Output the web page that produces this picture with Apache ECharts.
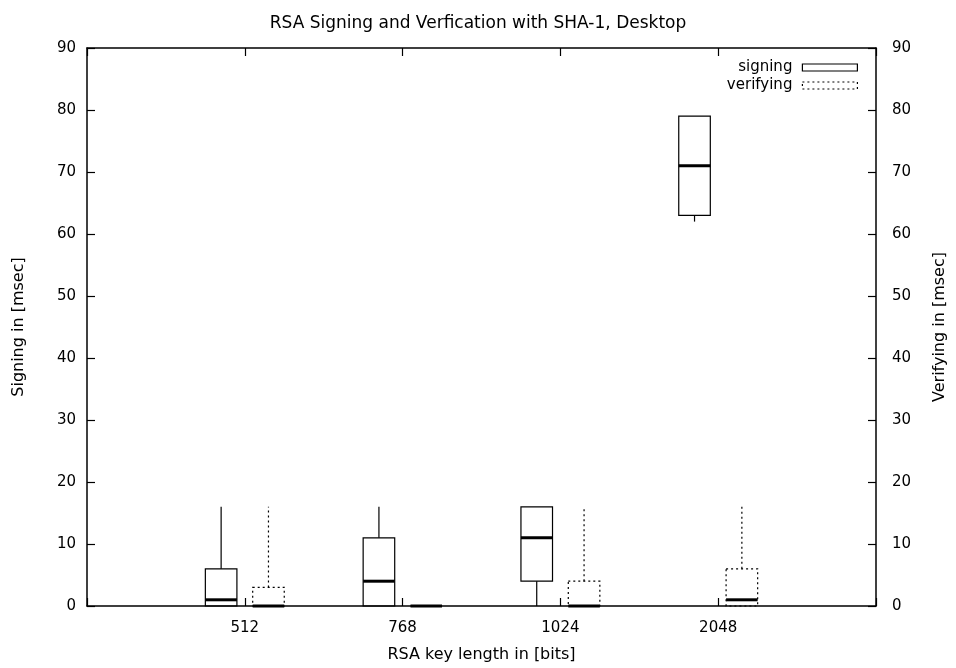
<!DOCTYPE html>
<html><head><meta charset="utf-8">
<script src="https://cdn.jsdelivr.net/npm/echarts@6/dist/echarts.min.js"></script>
<style>html,body{margin:0;padding:0;background:#fff}#c{width:956px;height:668px}</style>
</head><body><div id="c"></div>
<script>
const categories = ['512', '768', '1024', '2048'];
const signingMin    = [0, 0, 0, 62];
const signingQ1     = [0, 0, 4, 63];
const signingMedian = [1, 4, 11, 71];
const signingQ3     = [6, 11, 16, 79];
const signingMax    = [16, 16, 16, 79];
const verifyingMin    = [0, 0, 0, 0];
const verifyingQ1     = [0, 0, 0, 0];
const verifyingMedian = [0, 0, 0, 1];
const verifyingQ3     = [3, 0, 4, 6];
const verifyingMax    = [16, 0, 16, 16];

const FONT = 'DejaVu Sans';
const FS = 15;

function rows(mn, q1, md, q3, mx) {
  return categories.map((c, i) => [i + 1, mn[i], q1[i], md[i], q3[i], mx[i]]);
}

function makeRender(off, dashed) {
  return function (params, api) {
    const x = api.value(0) + off;
    const pMin = api.coord([x, api.value(1)]);
    const pQ1 = api.coord([x, api.value(2)]);
    const pMed = api.coord([x, api.value(3)]);
    const pQ3 = api.coord([x, api.value(4)]);
    const pMax = api.coord([x, api.value(5)]);
    const w = api.size([0.2, 0])[0];
    const cx = pMin[0];
    const dash = dashed ? [2, 3] : null;
    const st = { stroke: '#000', lineWidth: 1.2, fill: 'rgba(0,0,0,0)', lineDash: dash };
    const ch = [];
    if (pQ3[1] > pMax[1] + 0.5) ch.push({ type: 'line', shape: { x1: cx, y1: pQ3[1], x2: cx, y2: pMax[1] }, style: st });
    if (pMin[1] > pQ1[1] + 0.5) ch.push({ type: 'line', shape: { x1: cx, y1: pQ1[1], x2: cx, y2: pMin[1] }, style: st });
    ch.push({ type: 'rect', shape: { x: cx - w / 2, y: pQ3[1], width: w, height: pQ1[1] - pQ3[1] }, style: st });
    ch.push({ type: 'line', shape: { x1: cx - w / 2, y1: pMed[1], x2: cx + w / 2, y2: pMed[1] }, style: { stroke: '#000', lineWidth: 3 } });
    return { type: 'group', children: ch };
  };
}

const axisCommon = {
  type: 'value',
  axisLine: { show: true, onZero: false, lineStyle: { color: '#000', width: 1.5 } },
  axisTick: { show: true, inside: true, length: 8, lineStyle: { color: '#000', width: 1.2 } },
  splitLine: { show: false },
  axisLabel: { color: '#000', fontFamily: FONT, fontSize: FS },
  nameTextStyle: { color: '#000', fontFamily: FONT, fontSize: FS + 1 }
};

const chart = echarts.init(document.getElementById('c'), null, { renderer: 'canvas' });
chart.setOption({
  animation: false,
  backgroundColor: '#fff',
  title: {
    text: 'RSA Signing and Verfication with SHA-1, Desktop',
    left: 'center', top: 10,
    textStyle: { color: '#000', fontFamily: FONT, fontSize: 17, fontWeight: 'normal' }
  },
  legend: {
    orient: 'vertical', right: 93, top: 55, align: 'right',
    itemWidth: 55, itemHeight: 7, itemGap: 3,
    textStyle: { color: '#000', fontFamily: FONT, fontSize: FS, padding: [0, 5, 0, 0] },
    data: [
      { name: 'signing', icon: 'rect', itemStyle: { color: '#fff', borderColor: '#000', borderWidth: 1.2 } },
      { name: 'verifying', icon: 'rect', itemStyle: { color: '#fff', borderColor: '#000', borderWidth: 1.2, borderType: [2, 3] } }
    ]
  },
  grid: { left: 87, right: 78, top: 48, bottom: 61, containLabel: false },
  xAxis: [
    Object.assign({}, axisCommon, {
      position: 'bottom', min: 0, max: 5, interval: 1,
      name: 'RSA key length in [bits]', nameLocation: 'middle', nameGap: 41,
      axisLabel: Object.assign({}, axisCommon.axisLabel, { margin: 15, formatter: v => categories[v - 1] || '' })
    }),
    Object.assign({}, axisCommon, {
      position: 'top', min: 0, max: 5, interval: 1,
      axisLabel: { show: false }
    })
  ],
  yAxis: [
    Object.assign({}, axisCommon, {
      position: 'left', min: 0, max: 90, interval: 10,
      name: 'Signing in [msec]', nameLocation: 'middle', nameGap: 60, nameRotate: 90,
      axisLabel: Object.assign({}, axisCommon.axisLabel, { margin: 11 })
    }),
    Object.assign({}, axisCommon, {
      position: 'right', min: 0, max: 90, interval: 10,
      name: 'Verifying in [msec]', nameLocation: 'middle', nameGap: 56, nameRotate: 90,
      axisLabel: Object.assign({}, axisCommon.axisLabel, { margin: 16 })
    })
  ],
  series: [
    {
      name: 'signing', type: 'custom', xAxisIndex: 0, yAxisIndex: 0,
      renderItem: makeRender(-0.15, false),
      data: rows(signingMin, signingQ1, signingMedian, signingQ3, signingMax),
      encode: { x: 0, y: [1, 2, 3, 4, 5] }
    },
    {
      name: 'verifying', type: 'custom', xAxisIndex: 0, yAxisIndex: 1,
      renderItem: makeRender(0.15, true),
      data: rows(verifyingMin, verifyingQ1, verifyingMedian, verifyingQ3, verifyingMax),
      encode: { x: 0, y: [1, 2, 3, 4, 5] }
    }
  ]
});
</script></body></html>
